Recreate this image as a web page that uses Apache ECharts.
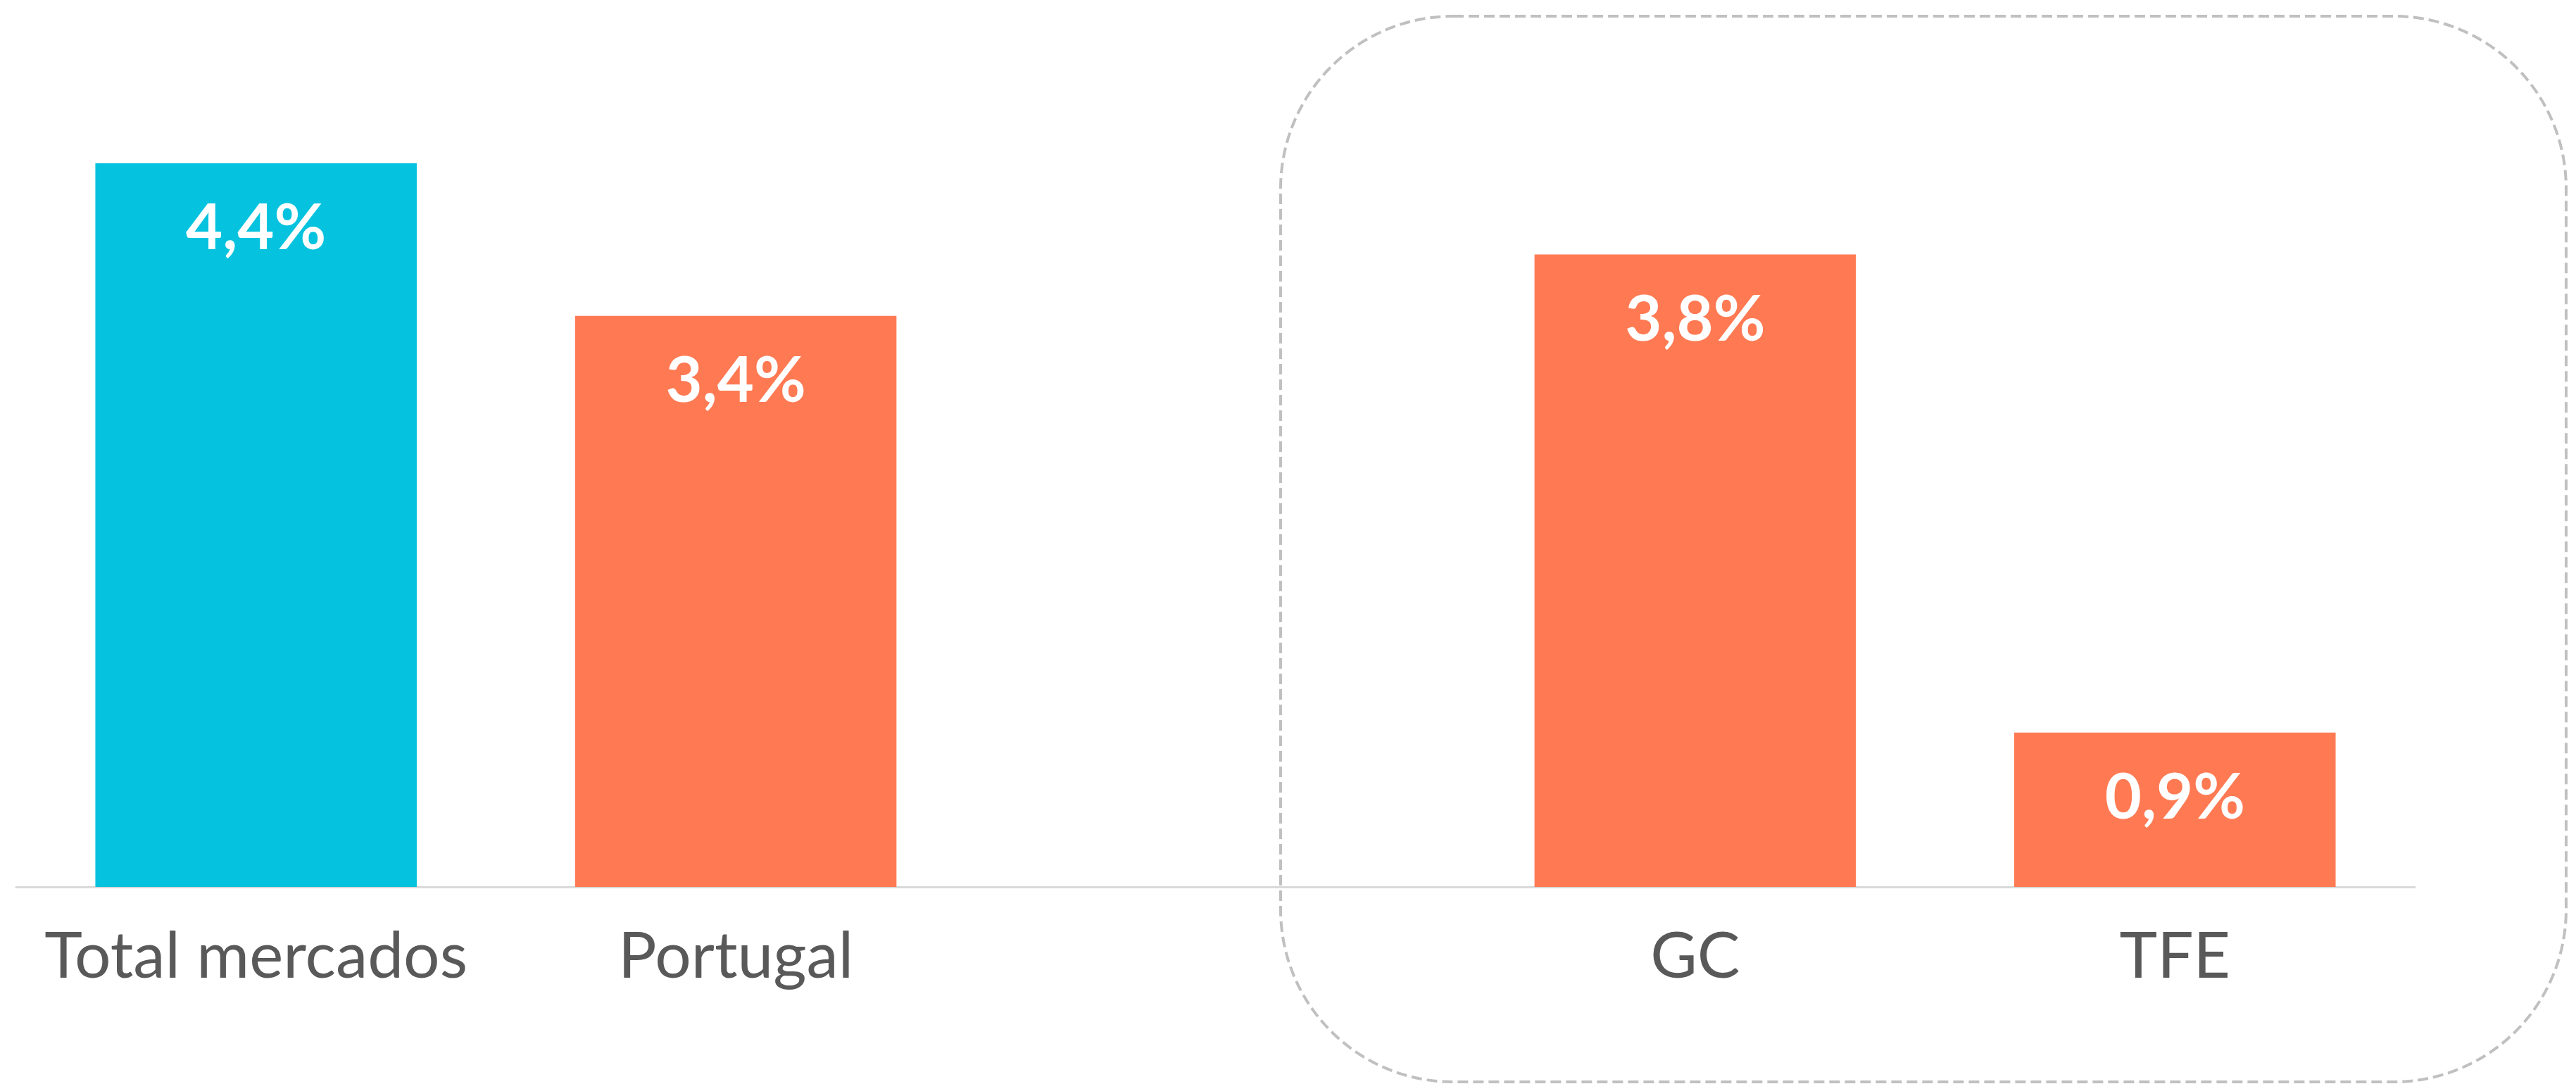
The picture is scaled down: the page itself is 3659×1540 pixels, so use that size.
<!DOCTYPE html>
<html>
<head>
<meta charset="utf-8">
<script src="https://cdn.jsdelivr.net/npm/echarts@6/dist/echarts.min.js"></script>
<style>
    html, body { margin: 0; padding: 0; background: #ffffff; }
    #bar { width: 3659px; height: 1540px; }
</style>
</head>
<body>
<div id="bar"></div>
<script>
// Chart data
var categories = ['Total mercados', 'Portugal', '', 'GC', 'TFE'];
var growth = [4.36, 3.44, null, 3.81, 0.93];

var totalColor = '#05c3de',
    marketColor = '#ff7a53';

function createBar() {
    var myChart = echarts.init(document.getElementById('bar'));

    var option = {
        animation: false,
        grid: {
            left: 23,
            right: 229,
            top: 81,
            bottom: 280
        },
        xAxis: {
            type: 'category',
            data: categories,
            axisLine: {
                lineStyle: {
                    color: '#d9d9d9',
                    width: 3
                }
            },
            axisTick: { show: false },
            axisLabel: {
                interval: 0,
                margin: 54,
                color: '#595959',
                fontFamily: 'Lato',
                fontSize: 91,
                lineHeight: 91
            }
        },
        yAxis: {
            type: 'value',
            min: 0,
            max: 5,
            show: false,
            splitLine: { show: false }
        },
        series: {
            name: 'Crecimiento',
            type: 'bar',
            data: growth,
            barCategoryGap: '33%',
            itemStyle: {
                color: function (p) {
                    return p.dataIndex === 0 ? totalColor : marketColor;
                }
            },
            label: {
                show: true,
                position: 'insideTop',
                distance: 48,
                color: '#ffffff',
                fontFamily: 'Lato',
                fontWeight: 'bold',
                fontSize: 90,
                lineHeight: 90,
                formatter: function (p) {
                    return p.value.toFixed(1).replace('.', ',') + '%';
                }
            }
        },
        // dashed frame round the island markets
        graphic: [{
            type: 'rect',
            silent: true,
            shape: { x: 1819, y: 23, width: 1826, height: 1514, r: 245 },
            style: {
                fill: 'none',
                stroke: '#c0c0c0',
                lineWidth: 4,
                lineDash: [15, 7]
            }
        }]
    };

    myChart.setOption(option);
}

createBar();
</script>
</body>
</html>
